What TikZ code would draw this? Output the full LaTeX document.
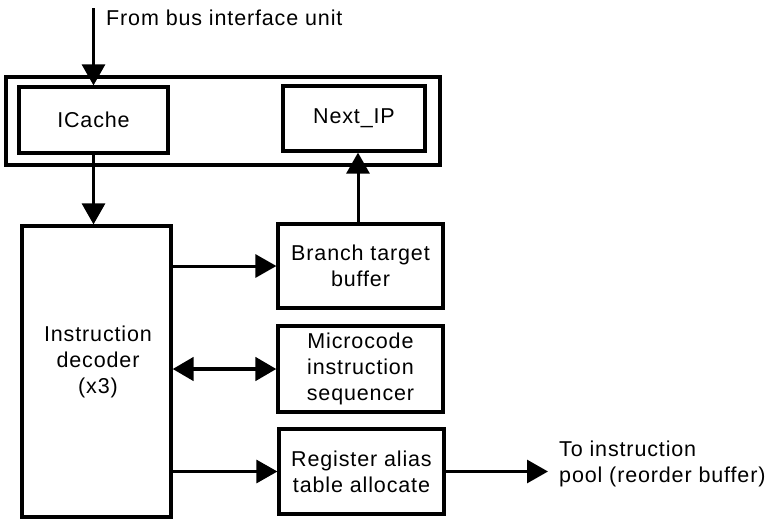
\documentclass[tikz,border=0pt]{standalone}
\usepackage{fontspec}
\setmainfont{Liberation Sans}[LetterSpace=4]
\usetikzlibrary{arrows.meta}
\begin{document}
\begin{tikzpicture}[x=1pt,y=-1pt,
  every node/.style={font=\fontsize{21.5}{26}\selectfont, inner sep=0pt},
  blk/.style={draw, line width=3.2pt, align=center, minimum width=165pt},
  tip/.style={},
  conn/.style={line width=3pt, -{Triangle[length=21pt,width=23pt]}},
  dconn/.style={line width=4.5pt, {Triangle[length=21pt,width=23pt]}-{Triangle[length=21pt,width=23pt]}}]
\useasboundingbox (0,0) rectangle (773,520);
% outer frame
\node[draw, line width=3.8pt, minimum width=434pt, minimum height=88pt] (frame) at (223,121) {};
\node[blk, minimum width=149pt, minimum height=66pt] (icache) at (93.5,120) {ICache};
\node[blk, minimum width=142pt, minimum height=65pt] (nextip) at (354,118.5) {Next\_IP};
\node[blk, minimum width=149pt, minimum height=291pt] (dec) at (96.5,371.5) {};
\node[align=center] (dectxt) at (98,362) {Instruction\\decoder\\(x3)};
\node[blk, minimum height=84pt] (btb) at (360.5,266) {Branch target\\buffer};
\node[blk, minimum height=86pt] (mis) at (360.5,369) {Microcode\\instruction\\sequencer};
\node[blk, minimum height=85pt] (rat) at (361.5,471.5) {Register alias\\table allocate};
% labels
\node[anchor=base west] (fromlbl) at (106,25) {From bus interface unit};
\node[anchor=west, align=left] (tolbl) at (559,464) {To instruction\\pool (reorder buffer)};
% connectors
\coordinate (in) at (93.5,8);
\coordinate (out) at (548,471.5);
\draw[conn] (in) -- (icache.north);
\draw[conn] (icache.south) -- (icache.south |- dec.north);
\draw[conn] (btb.north -| 358,0) -- (nextip.south -| 358,0);
\draw[conn] (btb.west -| dec.east) -- (btb.west);
\draw[dconn] (mis.west -| dec.east) -- (mis.west);
\draw[conn] (rat.west -| dec.east) -- (rat.west);
\draw[conn] (rat.east) -- (out);
\end{tikzpicture}
\end{document}
